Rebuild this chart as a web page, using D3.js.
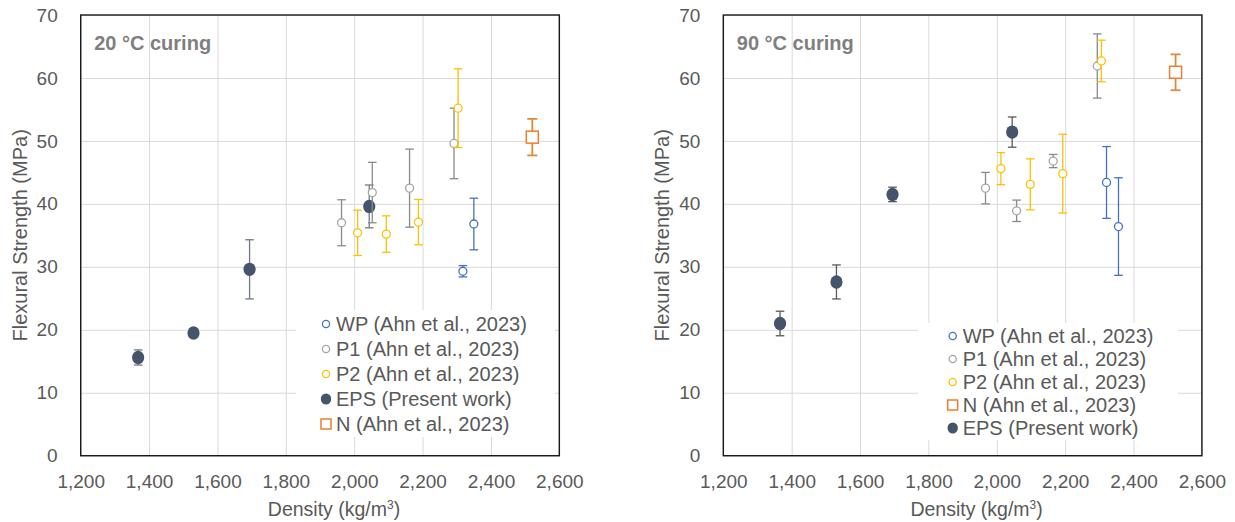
<!DOCTYPE html>
<html>
<script src="https://d3js.org/d3.v7.min.js"></script>
<head>
    <title>Flexural strength vs density</title>
    <meta charset="UTF-8">
    <style type="text/css">
        body { margin: 0; background: #fff; }
        text { font-family: "Liberation Sans", Arial, sans-serif; }
        .tick text { fill: #595959; font-size: 19px; }
        .grid line { stroke: #d9d9d9; stroke-width: 1; }
        .grid path, .axis path { display: none; }
    </style>
</head>
<body>
<script type="text/javascript">
    // tick values
    var xTicks = [1200, 1400, 1600, 1800, 2000, 2200, 2400, 2600];
    var yTicks = [0, 10, 20, 30, 40, 50, 60, 70];

    // 20 °C curing : density, strength, +/- error
    var wp20X = [2318, 2350],                 wp20Y = [29.3, 36.8],             wp20E = [0.9, 4.1];
    var p1_20X = [1963, 2053, 2162, 2292],    p1_20Y = [37.0, 41.8, 42.5, 49.6], p1_20E = [3.65, 4.8, 6.2, 5.6];
    var p2_20X = [2010, 2094, 2188, 2304],    p2_20Y = [35.4, 35.2, 37.1, 55.2], p2_20E = [3.6, 2.9, 3.6, 6.25];
    var eps20X = [1368, 1530, 1694, 2044],    eps20Y = [15.6, 19.5, 29.6, 39.6], eps20E = [1.2, 0.3, 4.7, 3.4];
    var n20X = [2521],                        n20Y = [50.6],                    n20E = [2.9];

    // 90 °C curing
    var wp90X = [2321, 2356],                 wp90Y = [43.4, 36.4],             wp90E = [5.7, 7.75];
    var p1_90X = [1967, 2058, 2165, 2294],    p1_90Y = [42.5, 38.9, 46.8, 61.9], p1_90E = [2.5, 1.7, 1.05, 5.1];
    var p2_90X = [2012, 2098, 2193, 2306],    p2_90Y = [45.6, 43.1, 44.8, 62.7], p2_90E = [2.55, 4.05, 6.25, 3.3];
    var eps90X = [1366, 1531, 1695, 2045],    eps90Y = [21.0, 27.6, 41.5, 51.4], eps90E = [1.95, 2.7, 1.15, 2.4];
    var n90X = [2523],                        n90Y = [60.9],                    n90E = [2.85];

    var legendNames = {
        WP: "WP (Ahn et al., 2023)",
        P1: "P1 (Ahn et al., 2023)",
        P2: "P2 (Ahn et al., 2023)",
        EPS: "EPS (Present work)",
        N: "N (Ahn et al., 2023)"
    };

    function series(key, xs, ys, es, style) {
        return { key: key, pts: xs.map(function (x, i) { return { x: x, y: ys[i], e: es[i] }; }), style: style };
    }

    function styles(epsBar) {
        return {
            WP:  { shape: "circle", r: 4, stroke: "#4472c4", fill: "#fff", bar: "#4472c4" },
            P1:  { shape: "circle", r: 4, stroke: "#a5a5a5", fill: "#fff", bar: "#8a8a8a" },
            P2:  { shape: "circle", r: 4, stroke: "#ffc000", fill: "#fff", bar: "#ffc000" },
            EPS: { shape: "dot", r: 6.4, stroke: "#44546a", fill: "#44546a", bar: epsBar },
            N:   { shape: "square", r: 6, stroke: "#ed7d31", fill: "#fff", bar: "#dd8a3c" }
        };
    }

    var s20 = styles("#6f7a8a"), s90 = styles("#5a5a5a");

    var charts = [
        {
            left: 80.7, title: "20 °C curing",
            series: [
                series("EPS", eps20X, eps20Y, eps20E, s20.EPS),
                series("P1", p1_20X, p1_20Y, p1_20E, s20.P1),
                series("P2", p2_20X, p2_20Y, p2_20E, s20.P2),
                series("WP", wp20X, wp20Y, wp20E, s20.WP),
                series("N", n20X, n20Y, n20E, s20.N)
            ],
            legendOrder: ["WP", "P1", "P2", "EPS", "N"],
            legendBox: [296, 310, 555, 437], legendX: 326, legendY: 324, legendDy: 25,
            styles: s20
        },
        {
            left: 723.3, title: "90 °C curing",
            series: [
                series("P1", p1_90X, p1_90Y, p1_90E, s90.P1),
                series("P2", p2_90X, p2_90Y, p2_90E, s90.P2),
                series("WP", wp90X, wp90Y, wp90E, s90.WP),
                series("N", n90X, n90Y, n90E, s90.N),
                series("EPS", eps90X, eps90Y, eps90E, s90.EPS)
            ],
            legendOrder: ["WP", "P1", "P2", "N", "EPS"],
            legendBox: [918, 323, 1178, 440], legendX: 952.7, legendY: 336, legendDy: 23,
            styles: s90
        }
    ];

    var plotTop = 15, width = 478.6, height = 440.7;

    var svg = d3.select("body").append("svg")
        .attr("width", 1235)
        .attr("height", 522);

    function drawMarker(g, cx, cy, st, small) {
        if (st.shape === "square") {
            var h = small ? 5 : st.r;
            g.append("rect")
                .attr("x", cx - h).attr("y", cy - h)
                .attr("width", 2 * h).attr("height", 2 * h)
                .attr("fill", st.fill).attr("stroke", st.stroke).attr("stroke-width", 1.5);
        } else if (st.shape === "dot") {
            g.append("ellipse")
                .attr("cx", cx).attr("cy", cy)
                .attr("rx", small ? 5.2 : st.r - 0.3).attr("ry", small ? 5.6 : st.r + 0.3)
                .attr("fill", st.fill);
        } else {
            g.append("circle")
                .attr("cx", cx).attr("cy", cy)
                .attr("r", small ? 3.6 : st.r)
                .attr("fill", st.fill).attr("stroke", st.stroke).attr("stroke-width", 1.3);
        }
    }

    charts.forEach(function (c) {
        var x = d3.scaleLinear().domain([1200, 2600]).range([0, width]);
        var y = d3.scaleLinear().domain([0, 70]).range([height, 0]);

        var g = svg.append("g").attr("transform", "translate(" + c.left + "," + plotTop + ")");

        // gridlines
        g.append("g").attr("class", "grid")
            .attr("transform", "translate(0," + height + ")")
            .call(d3.axisBottom(x).tickValues(xTicks).tickSize(-height).tickFormat(""));
        g.append("g").attr("class", "grid")
            .call(d3.axisLeft(y).tickValues(yTicks).tickSize(-width).tickFormat(""));

        // axes labels
        g.append("g").attr("class", "axis")
            .attr("transform", "translate(0," + height + ")")
            .call(d3.axisBottom(x).tickValues(xTicks).tickSize(0).tickPadding(19).tickFormat(d3.format(",")));
        g.append("g").attr("class", "axis")
            .call(d3.axisLeft(y).tickValues(yTicks).tickSize(0).tickPadding(23));

        // legend background
        var lb = c.legendBox;
        svg.append("rect")
            .attr("x", lb[0]).attr("y", lb[1])
            .attr("width", lb[2] - lb[0]).attr("height", lb[3] - lb[1])
            .attr("fill", "#fff");

        // points + error bars
        c.series.forEach(function (s) {
            var sg = g.append("g");
            s.pts.forEach(function (p) {
                var px = x(p.x), y1 = y(p.y + p.e), y0 = y(p.y - p.e);
                var cap = s.key === "N" ? 5 : 4.3;
                var bw = s.key === "N" ? 1.8 : 1.3;
                sg.append("line").attr("x1", px).attr("x2", px).attr("y1", y1).attr("y2", y0)
                    .attr("stroke", s.style.bar).attr("stroke-width", bw);
                [y1, y0].forEach(function (yy) {
                    sg.append("line").attr("x1", px - cap).attr("x2", px + cap).attr("y1", yy).attr("y2", yy)
                        .attr("stroke", s.style.bar).attr("stroke-width", bw);
                });
                drawMarker(sg, px, y(p.y), s.style, false);
            });
        });

        // frame
        g.append("rect")
            .attr("width", width).attr("height", height)
            .attr("fill", "none").attr("stroke", "#1a1a1a").attr("stroke-width", 1.4);

        // panel title
        g.append("text")
            .attr("x", 13.5).attr("y", 34.5)
            .attr("fill", "#7f7f7f")
            .style("font-size", "20px").style("font-weight", "bold")
            .text(c.title);

        // legend
        c.legendOrder.forEach(function (k, i) {
            var ly = c.legendY + i * c.legendDy;
            drawMarker(svg, c.legendX, ly, c.styles[k], true);
            svg.append("text")
                .attr("x", c.legendX + 10).attr("y", ly)
                .attr("dy", "0.36em")
                .attr("fill", "#595959")
                .style("font-size", "20px")
                .text(legendNames[k]);
        });

        // axis titles
        var xt = g.append("text")
            .attr("x", width / 2 + 14).attr("y", height + 60)
            .attr("text-anchor", "middle")
            .attr("fill", "#595959")
            .style("font-size", "19.5px");
        xt.append("tspan").text("Density (kg/m");
        xt.append("tspan").attr("dy", "-7").style("font-size", "12px").text("3");
        xt.append("tspan").attr("dy", "7").text(")");

        g.append("text")
            .attr("transform", "translate(-54," + (height / 2) + ") rotate(-90)")
            .attr("text-anchor", "middle")
            .attr("fill", "#595959")
            .style("font-size", "20px")
            .text("Flexural Strength (MPa)");
    });
</script>
</body>
</html>
